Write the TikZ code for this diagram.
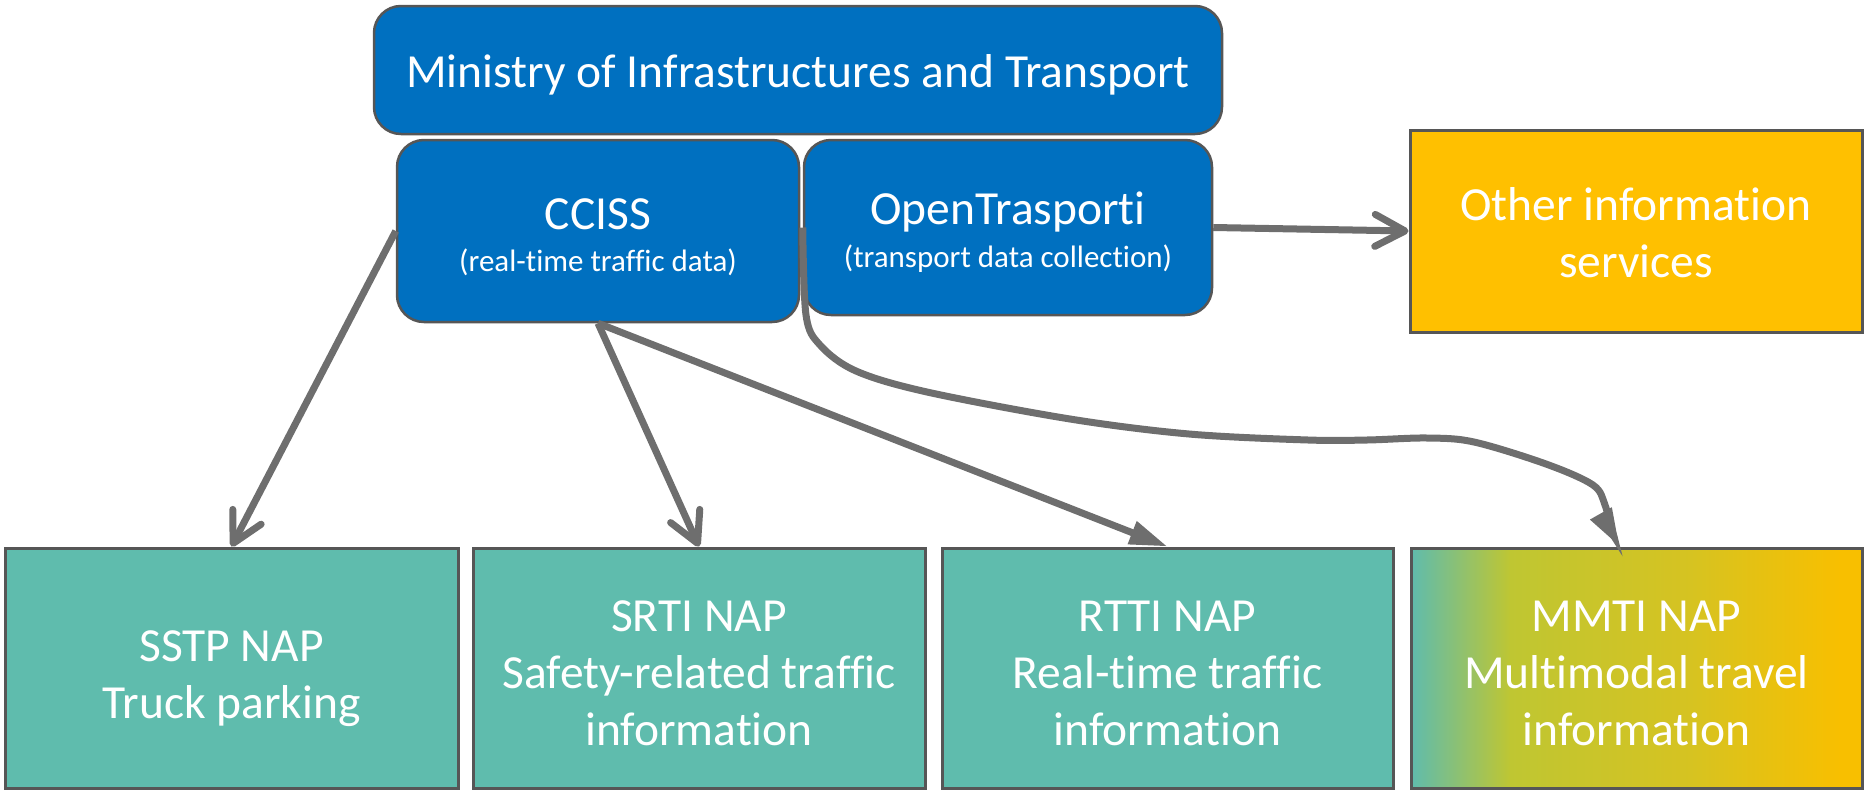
\documentclass[tikz,border=0pt]{standalone}
\usepackage{fontspec}
\setmainfont{Carlito}[Ligatures=NoCommon]
\usetikzlibrary{arrows.meta}
\definecolor{mblue}{HTML}{0070C0}
\definecolor{bord}{HTML}{565656}
\definecolor{teal}{HTML}{5FBCAD}
\definecolor{gold}{HTML}{FFC000}
\definecolor{golds}{HTML}{F8BF00}
\definecolor{ygreen}{HTML}{BFC632}
\definecolor{ymid}{HTML}{D6C321}
\definecolor{lgray}{HTML}{6E6E6E}
\begin{document}
\begin{tikzpicture}[x=1pt,y=-1pt,
  bluebox/.style={draw=bord, line width=2.5pt, fill=mblue, rounded corners=27pt, inner sep=0pt},
  flatbox/.style={draw=bord, line width=3pt, inner sep=0pt, minimum width=451pt, minimum height=240pt},
  big/.style={text=white, align=center, inner sep=0pt, font=\fontsize{47.5}{57}\selectfont},
  small/.style={text=white, align=center, inner sep=0pt, font=\fontsize{31}{40}\selectfont},
  conn/.style={draw=lgray, line width=7pt},
  barb/.style={-{Straight Barb[length=30pt,width=32pt,round]}},
  tri/.style={-{Triangle[length=38pt,width=23pt]}}
]
\useasboundingbox (0,0) rectangle (1864,790);

% boxes
\node[bluebox, minimum width=848pt, minimum height=128pt] (min) at (798,70) {};
\node[bluebox, minimum width=402pt, minimum height=182pt] (cciss) at (598,231) {};
\node[bluebox, minimum width=408pt, minimum height=175pt] (ot) at (1008,227.5) {};
\node[flatbox, fill=gold, minimum width=452pt, minimum height=202pt] (other) at (1636,231) {};
\node[flatbox, fill=teal, minimum width=453pt] (sstp) at (231.5,668) {};
\node[flatbox, fill=teal, minimum width=452pt] (srti) at (699,668) {};
\node[flatbox, fill=teal] (rtti) at (1167.5,668) {};
\shade[left color=teal, right color=ygreen] (1411,548) rectangle (1511,788);
\shade[left color=ygreen, right color=ymid] (1510,548) rectangle (1691,788);
\shade[left color=ymid, right color=golds] (1690,548) rectangle (1841,788);
\fill[golds] (1840,548) rectangle (1862,788);
\node[flatbox] (mmti) at (1636.5,668) {};

% texts
\node[big] (mint) at (798,75) {Ministry of Infrastructures and Transport};
\node[big] (ccisst) at (598,214) {CCISS};
\node[small] (cciss2) at (598,262) {(real-time traffic data)};
\node[big] (ott) at (1008,212) {OpenTrasporti};
\node[small] (ot2) at (1008,259) {(transport data collection)};
\node[big] (othert) at (1636,233) {Other information\\services};
\node[big] (sstpt) at (231.5,679) {SSTP NAP\\Truck parking};
\node[big] (srtit) at (699,673) {SRTI NAP\\Safety-related traffic\\information};
\node[big] (rttit) at (1167.5,673) {RTTI NAP\\Real-time traffic\\information};
\node[big] (mmtit) at (1636.5,673) {MMTI NAP\\Multimodal travel\\information};

% connectors
\draw[conn, barb] (cciss.west) -- (sstp.north);
\draw[conn, barb] (cciss.south) -- (srti.north);
\draw[conn, tri] (cciss.south) -- (rtti.north);
\draw[conn, barb] (ot.east) -- (other.west);
\draw[conn, tri] plot[smooth, tension=0.55] coordinates {(ot.west) (806,315) (820,345) (856,371) (927,392) (1070,419) (1189,434) (1308,440) (1367,440) (1427,438) (1474,442) (1546,464) (1593,485) (1605,505) (1611,529) ([xshift=-17pt]mmti.north)};
\end{tikzpicture}
\end{document}
